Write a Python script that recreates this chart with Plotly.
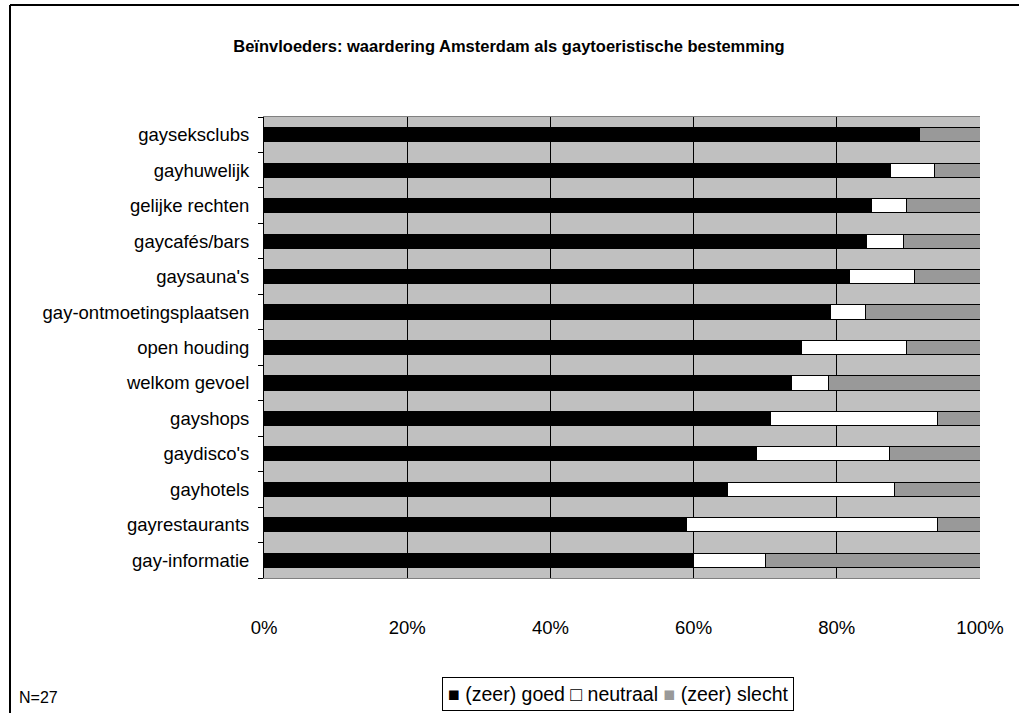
import plotly.graph_objects as go

categories = ["gayseksclubs", "gayhuwelijk", "gelijke rechten", "gaycafés/bars", "gaysauna's",
              "gay-ontmoetingsplaatsen", "open houding", "welkom gevoel", "gayshops",
              "gaydisco's", "gayhotels", "gayrestaurants", "gay-informatie"]
goed =     [91.5, 87.5, 84.9, 84.1, 81.8, 79.1, 75.0, 73.7, 70.7, 68.8, 64.8, 59.0, 60.0]
neutraal = [0.0, 6.1, 4.9, 5.2, 9.0, 4.9, 14.8, 5.2, 23.3, 18.6, 23.3, 35.0, 10.0]
slecht = [100 - g - n for g, n in zip(goed, neutraal)]
series_names = ["(zeer) goed", "neutraal", "(zeer) slecht"]
series_colors = ["#000000", "#FFFFFF", "#999999"]
tick_vals = [0, 20, 40, 60, 80, 100]
tick_text = ["0%", "20%", "40%", "60%", "80%", "100%"]

fig = go.Figure()
for name, vals, col in zip(series_names, [goed, neutraal, slecht], series_colors):
    fig.add_trace(go.Bar(y=categories, x=vals, name=name, orientation="h",
                         marker=dict(color=col, line=dict(color="#000000", width=1)),
                         hoverinfo="x+y", showlegend=False))

font = "Liberation Sans, Arial, sans-serif"
L, R, T, B = 264, 980, 117, 578
W, H = R - L, B - T
fig.update_layout(
    barmode="stack", bargap=0.6,
    width=1019, height=713,
    margin=dict(l=L, r=1019 - R, t=T, b=713 - B),
    paper_bgcolor="white", plot_bgcolor="#C0C0C0",
    font=dict(family=font, size=18.5, color="black"),
    title=dict(text="<b>Beïnvloeders: waardering Amsterdam als gaytoeristische bestemming</b>",
               x=(509 - L) / W, xref="paper", xanchor="center", y=1 - 46 / 713, yanchor="middle",
               font=dict(family=font, size=16.5, color="black")),
    xaxis=dict(range=[0, 100], tickvals=tick_vals, ticktext=tick_text, showgrid=True,
               gridcolor="#000000", gridwidth=1, zeroline=False, showline=True,
               linecolor="#808080", mirror=True, ticks="", ticklabelstandoff=33,
               tickfont=dict(size=18.5)),
    yaxis=dict(categoryorder="array", categoryarray=categories[::-1], showline=True,
               linecolor="#000000", ticks="outside", ticklen=5, tickwidth=1, tickcolor="#000000",
               tickson="boundaries", ticklabelstandoff=10, showgrid=False,
               tickfont=dict(size=18.5)),
    showlegend=False,
)
# figure frame (left and top edges visible in the reference)
fig.add_shape(type="line", xref="paper", yref="paper",
              x0=-(L - 10) / W, x1=-(L - 10) / W, y0=-(740 - B) / H, y1=1 + (T - 5) / H,
              line=dict(color="black", width=2))
fig.add_shape(type="line", xref="paper", yref="paper",
              x0=-(L - 10) / W, x1=(1030 - L) / W, y0=1 + (T - 5) / H, y1=1 + (T - 5) / H,
              line=dict(color="black", width=2))
# legend box
legend_text = ("<span style='color:#000000'>■</span> (zeer) goed "
               "<span style='color:#000000'>□</span> neutraal "
               "<span style='color:#999999'>■</span> (zeer) slecht")
fig.add_annotation(text=legend_text, xref="paper", yref="paper", x=(618 - L) / W,
                   xanchor="center", y=-(694 - B) / H, yanchor="middle", showarrow=False,
                   bordercolor="#000000", borderwidth=1, borderpad=5, bgcolor="white",
                   font=dict(size=19.5, family=font, color="black"))
fig.add_annotation(text="N=27", xref="paper", yref="paper", x=-(L - 17) / W,
                   xanchor="left", y=-(697 - B) / H, yanchor="middle",
                   showarrow=False, font=dict(size=16, family=font))
fig.write_html("out.html")
